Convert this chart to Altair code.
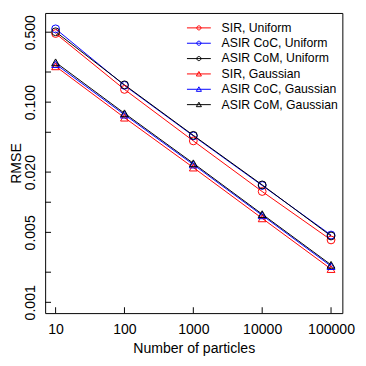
import altair as alt
import pandas as pd

n_particles = [10, 100, 1000, 10000, 100000]
series_names = ["SIR, Uniform", "ASIR CoC, Uniform", "ASIR CoM, Uniform",
                "SIR, Gaussian", "ASIR CoC, Gaussian", "ASIR CoM, Gaussian"]
sir_uniform = [0.485, 0.134, 0.041, 0.0128, 0.0042]
coc_uniform = [0.54, 0.147, 0.046, 0.0147, 0.0047]
com_uniform = [0.505, 0.149, 0.0466, 0.0149, 0.0046]
sir_gauss = [0.228, 0.070, 0.0222, 0.0069, 0.00215]
coc_gauss = [0.24, 0.075, 0.0238, 0.0074, 0.0023]
com_gauss = [0.25, 0.0774, 0.0245, 0.0076, 0.00237]
series_values = [sir_uniform, coc_uniform, com_uniform, sir_gauss, coc_gauss, com_gauss]
series_colors = ["#FF0000", "#0000FF", "#000000", "#FF0000", "#0000FF", "#000000"]
x_tick_values = [10, 100, 1000, 10000, 100000]
y_tick_values = [0.001, 0.002, 0.005, 0.01, 0.02, 0.05, 0.1, 0.2, 0.5]
y_label_values = [0.001, 0.005, 0.02, 0.1, 0.5]

rows = []
for name, vals in zip(series_names, series_values):
    for n, v in zip(n_particles, vals):
        rows.append({"n": n, "rmse": v, "series": name})
df = pd.DataFrame(rows)

W, H = 304, 307
FONT = "Liberation Sans"

x_scale = alt.Scale(type="log", domain=[7.05, 146000], nice=False)
y_scale = alt.Scale(type="log", domain=[0.00078, 0.778], nice=False)
x_axis = alt.Axis(values=x_tick_values, format="d", ticks=False, tickSize=0, domain=False,
                  grid=False, labelPadding=10, title="Number of particles", titlePadding=6,
                  labelFlush=False, labelOverlap=False)
y_axis = alt.Axis(values=y_label_values, format=".3f", ticks=False, tickSize=0, domain=False,
                  grid=False, labelPadding=8, labelAngle=270, labelAlign="center",
                  labelBaseline="bottom", title="RMSE", titleAngle=270, titleAlign="center",
                  titleBaseline="alphabetic", titleX=-25, titleY=H / 2,
                  labelFlush=False, labelOverlap=False)
x_enc = alt.X("n:Q", scale=x_scale, axis=x_axis)
y_enc = alt.Y("rmse:Q", scale=y_scale, axis=y_axis)
# plotted marks: same mapping, domain listed in reverse so it stays a separate guide from the legend
color_scale = alt.Scale(domain=series_names[::-1], range=series_colors[::-1])

circle_path = "M-2.44,0L2.44,0M-0.42,0A0.42,0.42,0,1,0,0.42,0A0.42,0.42,0,1,0,-0.42,0"
tri_path = "M-2.44,0L2.44,0M0,-0.5L0.52,0.42L-0.52,0.42Z"
legend_shapes = [circle_path] * 3 + [tri_path] * 3

base = alt.Chart(df)

lines = base.mark_line(strokeWidth=1).encode(
    x=x_enc, y=y_enc,
    color=alt.Color("series:N", scale=color_scale, legend=None),
    detail="series:N",
)
circles = base.transform_filter(
    alt.FieldOneOfPredicate(field="series", oneOf=series_names[:3])
).mark_point(shape="circle", filled=False, size=64, strokeWidth=1, opacity=1).encode(
    x=x_enc, y=y_enc,
    color=alt.Color("series:N", scale=color_scale, legend=None),
)
triangles = base.transform_filter(
    alt.FieldOneOfPredicate(field="series", oneOf=series_names[3:])
).mark_point(shape="triangle-up", filled=False, size=64, strokeWidth=1, opacity=1).encode(
    x=x_enc, y=y_enc,
    color=alt.Color("series:N", scale=color_scale, legend=None),
)

leg = alt.Legend(title=None, orient="none", legendX=151, legendY=9, symbolSize=100,
                 symbolStrokeWidth=1, labelFont=FONT, labelFontSize=12.5, labelOffset=17,
                 rowPadding=2.7, padding=0, labelColor="black")
# legend-only layer: no rows survive the filter, so it draws nothing in the plot
legend_layer = base.transform_filter("false").mark_point(
    filled=False, strokeWidth=1, opacity=1
).encode(
    x=x_enc, y=y_enc,
    stroke=alt.Stroke("series:N", scale=alt.Scale(domain=series_names, range=series_colors), legend=leg),
    shape=alt.Shape("series:N", scale=alt.Scale(domain=series_names, range=legend_shapes), legend=leg),
)

xticks = alt.Chart(pd.DataFrame({"n": x_tick_values})).mark_rule(color="black", strokeWidth=1).encode(
    x=x_enc, y=alt.value(H - 6), y2=alt.value(H)
)
yticks = alt.Chart(pd.DataFrame({"rmse": y_tick_values})).mark_rule(color="black", strokeWidth=1).encode(
    y=y_enc, x=alt.value(0), x2=alt.value(6)
)

chart = alt.layer(lines, circles, triangles, legend_layer, xticks, yticks).properties(
    width=W, height=H,
    autosize=alt.AutoSizeParams(type="none"),
    padding={"left": 38, "top": 1, "right": 16, "bottom": 50},
    background="white",
).configure_view(stroke="black", strokeWidth=1).configure_axis(
    labelFont=FONT, titleFont=FONT, labelFontSize=14.4, titleFontSize=14.4,
    titleFontWeight="normal", labelColor="black", titleColor="black"
)

chart.save("out.html", embed_options={"renderer": "svg", "actions": False})
